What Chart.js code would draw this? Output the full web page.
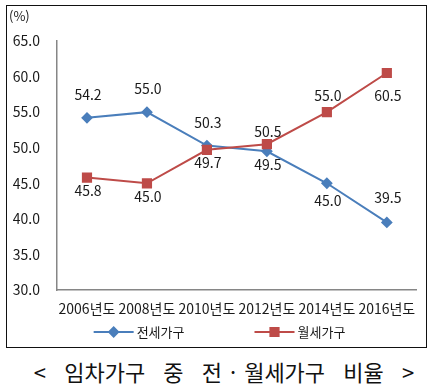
<!DOCTYPE html>
<html lang="ko">
<head>
<meta charset="utf-8">
<script src="https://cdn.jsdelivr.net/npm/chart.js@4/dist/chart.umd.min.js"></script>
<style>
  html, body { margin: 0; padding: 0; background: #fff; }
  body { width: 430px; height: 388px; position: relative; overflow: hidden; font-family: "Noto Sans CJK KR", "Noto Sans", sans-serif; }
  #frame { position: absolute; left: 6px; top: 5px; width: 419px; height: 341px; border: 1px solid #111; }
  #frame canvas { display: block; }
  #caption { position: absolute; left: 9px; width: 430px; top: 356px; text-align: center; font-size: 22px; line-height: 30px; color: #111; word-spacing: 12px; white-space: pre; }
  #caption .dot { margin: 0 8px; }
</style>
</head>
<body>
<div id="frame"><canvas id="c" width="419" height="341"></canvas></div>
<div id="caption"></div>
<script>
const categories = ['2006년도', '2008년도', '2010년도', '2012년도', '2014년도', '2016년도'];
const jeonseValues = [54.2, 55.0, 50.3, 49.5, 45.0, 39.5];
const wolseValues = [45.8, 45.0, 49.7, 50.5, 55.0, 60.5];
const seriesNames = ['전세가구', '월세가구'];
const unitLabel = '(%)';
const captionParts = ['< 임차가구 중 전', '·', '월세가구 비율 >'];

const FONT = '"Noto Sans CJK KR", "Noto Sans", sans-serif';
const BLUE = '#4A7EBB';
const RED = '#BE4B48';
const TEXT = '#1a1a1a';

// caption
(function () {
  const cap = document.getElementById('caption');
  cap.appendChild(document.createTextNode(captionParts[0]));
  const dot = document.createElement('span');
  dot.className = 'dot';
  dot.textContent = captionParts[1];
  cap.appendChild(dot);
  cap.appendChild(document.createTextNode(captionParts[2]));
})();

// vertical offsets (px) of value labels from their points
const labelOffsets = [
  [-23, -23, -23, 13, 17, -25],
  [13, 13, 13, -12, -16, 23]
];

const valueLabels = {
  id: 'valueLabels',
  afterDatasetsDraw(chart) {
    const ctx = chart.ctx;
    ctx.save();
    ctx.font = '14px ' + FONT;
    ctx.fillStyle = TEXT;
    ctx.textAlign = 'center';
    ctx.textBaseline = 'middle';
    chart.data.datasets.forEach((ds, i) => {
      const meta = chart.getDatasetMeta(i);
      meta.data.forEach((pt, j) => {
        ctx.fillText(ds.data[j].toFixed(1), pt.x + 1, pt.y + labelOffsets[i][j]);
      });
    });
    ctx.restore();
  }
};

const extras = {
  id: 'extras',
  afterDraw(chart) {
    const ctx = chart.ctx;
    ctx.save();
    ctx.font = '13px ' + FONT;
    ctx.fillStyle = TEXT;
    ctx.textAlign = 'left';
    ctx.textBaseline = 'middle';
    ctx.fillText(unitLabel, 2, 10);
    // legend
    const lineW = 40, gapText = 3, itemGap = 70;
    const items = chart.data.datasets.map(ds => ({ ds, w: lineW + gapText + ctx.measureText(ds.label).width }));
    const total = items.reduce((s, it) => s + it.w, 0) + itemGap * (items.length - 1);
    let x = chart.width / 2 + 3 - total / 2;
    const y = 326;
    items.forEach(it => {
      const ds = it.ds;
      ctx.strokeStyle = ds.borderColor;
      ctx.lineWidth = ds.borderWidth;
      ctx.beginPath();
      ctx.moveTo(x, y);
      ctx.lineTo(x + lineW, y);
      ctx.stroke();
      Chart.helpers.drawPoint(ctx, {
        pointStyle: ds.pointStyle,
        radius: ds.pointRadius,
        rotation: 0,
        borderWidth: 1
      }, x + lineW / 2, y);
      ctx.fillStyle = ds.pointBackgroundColor;
      ctx.fill();
      ctx.fillStyle = TEXT;
      ctx.textAlign = 'left';
      ctx.fillText(ds.label, x + lineW + gapText, y);
      x += it.w + itemGap;
    });
    ctx.restore();
  }
};

new Chart(document.getElementById('c'), {
  type: 'line',
  data: {
    labels: categories,
    datasets: [
      {
        label: seriesNames[0],
        data: jeonseValues,
        borderColor: BLUE,
        backgroundColor: BLUE,
        pointBackgroundColor: BLUE,
        pointBorderColor: BLUE,
        pointStyle: 'rectRot',
        pointRadius: 4.5,
        borderWidth: 2,
        tension: 0,
        order: 1
      },
      {
        label: seriesNames[1],
        data: wolseValues,
        borderColor: RED,
        backgroundColor: RED,
        pointBackgroundColor: RED,
        pointBorderColor: RED,
        pointStyle: 'rect',
        pointRadius: 5.8,
        borderWidth: 2,
        tension: 0,
        order: 0
      }
    ]
  },
  options: {
    responsive: false,
    animation: false,
    layout: { padding: { top: 35, right: 9, left: 0, bottom: 0 } },
    plugins: { legend: { display: false }, tooltip: { enabled: false } },
    scales: {
      x: {
        type: 'category',
        offset: true,
        grid: { display: false, drawTicks: false },
        border: { display: true, color: '#868686', width: 1.5 },
        ticks: { autoSkip: false, maxRotation: 0, minRotation: 0, padding: 10, color: TEXT, font: { family: FONT, size: 14 } },
        afterFit(scale) { scale.height = 57; }
      },
      y: {
        min: 30,
        max: 65,
        grid: { display: false, drawTicks: false },
        border: { display: true, color: '#868686', width: 1.5 },
        ticks: { stepSize: 5, padding: 17, color: TEXT, font: { family: FONT, size: 14 }, callback: v => Number(v).toFixed(1) },
        afterFit(scale) { scale.width = 50; }
      }
    }
  },
  plugins: [valueLabels, extras]
});
</script>
</body>
</html>
